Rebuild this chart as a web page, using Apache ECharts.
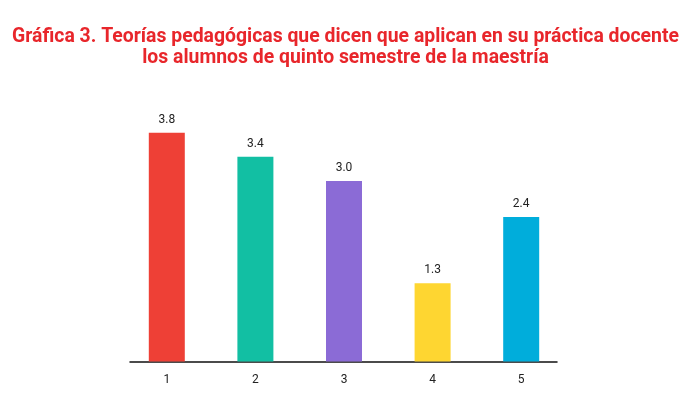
<!DOCTYPE html>
<html><head><meta charset="utf-8">
<script src="https://cdn.jsdelivr.net/npm/echarts@6/dist/echarts.min.js"></script>
<style>html,body{margin:0;padding:0;background:#fff}#c{width:691px;height:394px}</style>
</head><body><div id="c"></div>
<script>
const categories = ['1','2','3','4','5'];
const values = [3.8, 3.4, 3.0, 1.3, 2.4];
const barColors = ['#ee4036','#12bfa3','#8b6bd6','#fed631','#00addb'];
const titleLines = ['Gráfica 3. Teorías pedagógicas que dicen que aplican en su práctica docente','los alumnos de quinto semestre de la maestría'];

const chart = echarts.init(document.getElementById('c'));
chart.setOption({
  animation:false,
  title:{
    text: titleLines.join('\n'),
    left:'center', top:22,
    textStyle:{color:'#e8262b', fontFamily:'Roboto', fontWeight:'bold', fontSize:19.4, lineHeight:21}
  },
  grid:[
    {left:122.5, right:125.5, top:120.7, bottom:32.5},
    {left:130, right:134, top:120.7, bottom:32.5}
  ],
  xAxis:[
    {type:'category', data:categories, gridIndex:0,
     axisLine:{show:false}, axisTick:{show:false},
     axisLabel:{color:'#222', fontFamily:'Roboto', fontSize:12, margin:12}},
    {type:'category', data:categories, gridIndex:1,
     axisLine:{show:true, lineStyle:{color:'#111', width:1.5}}, axisTick:{show:false}, axisLabel:{show:false}}
  ],
  yAxis:[
    {type:'value', min:0, max:4, gridIndex:0, show:false},
    {type:'value', min:0, max:4, gridIndex:1, show:false}
  ],
  series:[{
    type:'bar', xAxisIndex:0, yAxisIndex:0,
    barWidth:36,
    data: values.map((v,i)=>({value:v, itemStyle:{color:barColors[i]}})),
    label:{show:true, position:'top', distance:7, color:'#222', fontFamily:'Roboto', fontSize:12,
      formatter:p=>p.value.toFixed(1)}
  }]
});
</script></body></html>
